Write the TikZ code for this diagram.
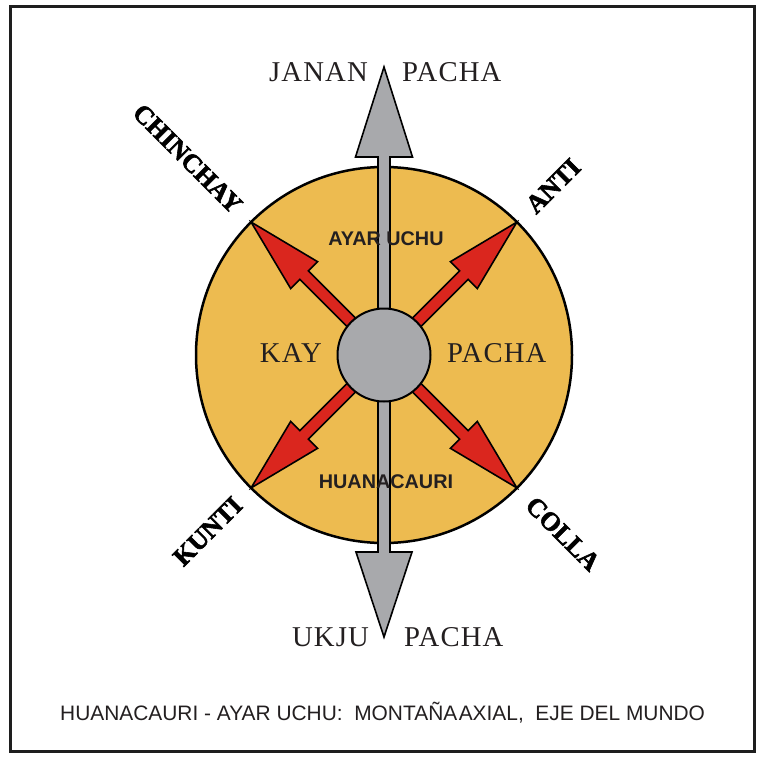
\documentclass[tikz,border=0pt]{standalone}
\usepackage{fontspec}
\usetikzlibrary{calc}
\setmainfont{Liberation Serif}
\newfontfamily\serifsp{Liberation Serif}[LetterSpace=4]
\newfontfamily\sansf{Liberation Sans}
\newfontfamily\heavy{Liberation Serif}[BoldFeatures={FakeBold=2.2}]
\definecolor{diskfill}{RGB}{237,187,80}
\definecolor{redfill}{RGB}{218,38,30}
\definecolor{greyfill}{RGB}{168,169,172}
\definecolor{inkc}{RGB}{35,31,32}
\definecolor{framec}{RGB}{30,30,30}
\tikzset{
  serifl/.style={font=\serifsp\fontsize{28.7}{30}\selectfont, text=inkc, inner sep=0pt},
  sansl/.style={font=\sansf\bfseries\fontsize{19.8}{21}\selectfont, text=inkc, inner sep=0pt},
  diagl/.style={font=\heavy\bfseries\fontsize{26}{28}\selectfont, text=black, inner sep=0pt},
  capl/.style={font=\sansf\fontsize{20.9}{22}\selectfont, text=inkc, inner sep=0pt},
  outl/.style={draw=black, line width=1.6pt, line join=miter},
}
\begin{document}
\begin{tikzpicture}[x=1pt,y=-1pt]
\useasboundingbox (0,0) rectangle (758,760);
\draw[line width=3pt, draw=framec] (10,7) rectangle (754,751);
\coordinate (c) at (384,355);
\node[circle, draw=black, fill=diskfill, line width=2.5pt, minimum size=376pt, inner sep=0pt] (disk) at (c) {};
% vertical axis arrow
\draw[outl, fill=greyfill] (384,67) -- (412.5,157) -- (390,157) -- (390,552) -- (412,552) -- (384,637)
  -- (356,552) -- (378,552) -- (378,157) -- (355.5,157) -- cycle;
% red diagonal arrows
\foreach \ang in {45,135,225,315}{
  \begin{scope}[shift={(c)}, rotate=\ang]
    \draw[outl, fill=redfill] (30,-6) -- (113,-6) -- (113,-19) -- (188,0) -- (113,19) -- (113,6) -- (30,6) -- cycle;
  \end{scope}
}
\node[circle, draw=black, fill=greyfill, line width=2pt, minimum size=93pt, inner sep=0pt] (hub) at (c) {};
% texts
\node[serifl, anchor=base east] (janan) at (368,81.5) {JANAN};
\node[serifl, anchor=base west] (pachaup) at (402,81.5) {PACHA};
\node[serifl, anchor=base east] (ukju) at (369,646.5) {UKJU};
\node[serifl, anchor=base west] (pachadn) at (404,646.5) {PACHA};
\node[serifl, anchor=base east] (kay) at (322,362.5) {KAY};
\node[serifl, anchor=base west] (pachamid) at (447,362.5) {PACHA};
\node[sansl, anchor=base] (ayar) at (386,245) {AYAR UCHU};
\node[sansl, anchor=base] (huana) at (386,488) {HUANACAURI};
\node[diagl, rotate=-45, anchor=east] (chinchay) at ($(c)+(-146,-146)$) {CHINCHAY};
\node[diagl, rotate=45, anchor=west] (anti) at ($(c)+(146,-146)$) {ANTI};
\node[diagl, rotate=45, anchor=east] (kunti) at ($(c)+(-146,146)$) {KUNTI};
\node[diagl, rotate=-45, anchor=west] (colla) at ($(c)+(146,146)$) {COLLA};
\node[capl, anchor=base west] (caption) at (60,720.5) {HUANACAURI - AYAR UCHU:\ \ {\spaceskip=1.5pt MONTAÑA AXIAL},\ \ EJE DEL MUNDO};
\end{tikzpicture}
\end{document}
